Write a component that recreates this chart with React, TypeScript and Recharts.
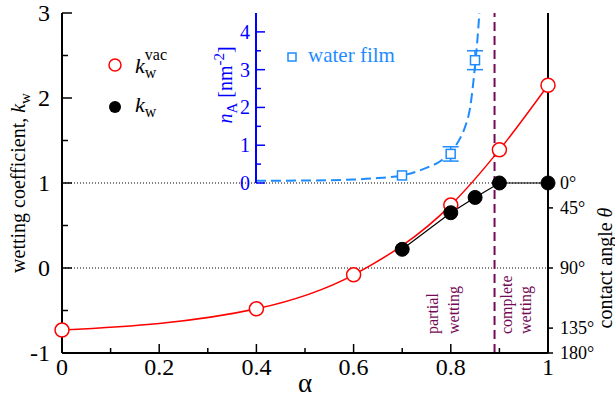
import {
  ComposedChart,
  Line,
  Scatter,
  ErrorBar,
  XAxis,
  YAxis,
  ReferenceLine,
  Legend
} from "recharts";

// wetting coefficient from vacuum reference
const vacAlpha = [0, 0.4, 0.6, 0.8, 0.9, 1.0];
const vacK = [-0.73, -0.48, -0.08, 0.74, 1.39, 2.15];

// wetting coefficient from contact angle
const kwAlpha = [0.7, 0.8, 0.85, 0.9, 1.0];
const kwK = [0.22, 0.65, 0.83, 1.0, 1.0];

// inset: water film density
const filmAlpha = [0.7, 0.8, 0.85];
const filmN = [0.2, 0.77, 3.25];
const filmErr = [0, 0.19, 0.25];

// inset: fitted curve
const fitAlpha = [0.4, 0.5, 0.6, 0.65, 0.7, 0.75, 0.78, 0.8, 0.82, 0.83, 0.84, 0.85, 0.855, 0.86, 0.865];
const fitN = [0.06, 0.065, 0.09, 0.13, 0.2, 0.4, 0.59, 0.82, 1.2, 1.5, 2.0, 3.1, 3.8, 4.7, 5.8];

const xTicks = [0, 0.1, 0.2, 0.3, 0.4, 0.5, 0.6, 0.7, 0.8, 0.9, 1];
const yTicks = [-1, -0.5, 0, 0.5, 1, 1.5, 2, 2.5, 3];
const insetTicks = [0, 0.5, 1, 1.5, 2, 2.5, 3, 3.5, 4];
const thetaDeg = [0, 45, 90, 135, 180];
const thetaTicks = thetaDeg.map((d) => Math.cos((d * Math.PI) / 180));
const wettingBoundary = 0.89;

const vacData = vacAlpha.map((a, i) => ({ alpha: a, k: vacK[i] }));
const kwData = kwAlpha.map((a, i) => ({ alpha: a, k: kwK[i] }));
const filmData = filmAlpha.map((a, i) => ({ alpha: a, n: filmN[i], err: filmErr[i] }));
const fitData = fitAlpha.map((a, i) => ({ alpha: a, n: fitN[i] }));

const FONT = '"Liberation Serif", "Times New Roman", serif';
const PURPLE = "#730a55";
const FILM = "#1e8cff";
const BLUE = "#0000ff";

const fmtX = (v: number) => (v === 0 ? "0" : v === 1 ? "1" : v.toFixed(1));
const isMajorX = (v: number) => Math.round(v * 10) % 2 === 0;

function BottomTick({ x, y, payload }: any) {
  const v = payload.value;
  const major = isMajorX(v);
  return (
    <g>
      <line x1={x} x2={x} y1={y} y2={y - (major ? 9 : 5)} stroke="#000" strokeWidth={1.5} />
      {major && (
        <text x={x} y={y + 22} textAnchor="middle" fontSize={24} style={{ fontFamily: FONT }} fill="#000">
          {fmtX(v)}
        </text>
      )}
    </g>
  );
}

function TopTick({ x, y, payload }: any) {
  const major = isMajorX(payload.value);
  return <line x1={x} x2={x} y1={y} y2={y + (major ? 9 : 5)} stroke="#000" strokeWidth={1.5} />;
}

function LeftTick({ x, y, payload }: any) {
  const v = payload.value;
  const major = Number.isInteger(v);
  return (
    <g>
      <line x1={x} x2={x + (major ? 10 : 6)} y1={y} y2={y} stroke="#000" strokeWidth={1.5} />
      {major && (
        <text x={x - 12} y={y} dy="0.35em" textAnchor="end" fontSize={24} style={{ fontFamily: FONT }} fill="#000">
          {v}
        </text>
      )}
    </g>
  );
}

function RightTick({ x, y, index }: any) {
  return (
    <g>
      <line x1={x} x2={x + 5} y1={y} y2={y} stroke="#000" strokeWidth={1.5} />
      <text x={x + 12} y={y} dy="0.35em" textAnchor="start" fontSize={18} style={{ fontFamily: FONT }} fill="#000">
        {thetaDeg[index]}°
      </text>
    </g>
  );
}

function InsetTick({ x, y, payload }: any) {
  const v = payload.value;
  const major = Number.isInteger(v);
  return (
    <g>
      <line x1={x} x2={x + (major ? 9 : 5)} y1={y} y2={y} stroke={BLUE} strokeWidth={1.5} />
      {major && (
        <text x={x - 6} y={y} dy="0.35em" textAnchor="end" fontSize={20} style={{ fontFamily: FONT }} fill={BLUE}>
          {v}
        </text>
      )}
    </g>
  );
}

function WettingLabels({ viewBox }: any) {
  const x = viewBox.x;
  const base = viewBox.y + viewBox.height - 19;
  const items: [string, number][] = [
    ["partial", -57],
    ["wetting", -36],
    ["complete", 17],
    ["wetting", 36]
  ];
  return (
    <g>
      {items.map(([t, dx], i) => (
        <text
          key={i}
          transform={`translate(${x + dx},${base}) rotate(-90)`}
          fontSize={16}
          style={{ fontFamily: FONT }}
          fill={PURPLE}
        >
          {t}
        </text>
      ))}
    </g>
  );
}

function MainLegend() {
  return (
    <svg width={100} height={96} style={{ overflow: "visible" }}>
      <circle cx={15} cy={27} r={6} fill="#fff" stroke="#ff0000" strokeWidth={1.5} />
      <text x={35} y={35} fontSize={22} style={{ fontFamily: FONT }} fill="#000">
        <tspan fontStyle="italic">k</tspan>
        <tspan fontSize={16} dy={5}>w</tspan>
        <tspan fontSize={16} dx={-11.5} dy={-18}>vac</tspan>
      </text>
      <circle cx={15} cy={69} r={6} fill="#000" />
      <text x={35} y={74} fontSize={22} style={{ fontFamily: FONT }} fill="#000">
        <tspan fontStyle="italic">k</tspan>
        <tspan fontSize={16} dy={5}>w</tspan>
      </text>
    </svg>
  );
}

function FilmLegend() {
  return (
    <svg width={130} height={40} style={{ overflow: "visible" }}>
      <rect x={8} y={13} width={8} height={8} fill="#fff" stroke={FILM} strokeWidth={1.5} />
      <text x={28} y={22} fontSize={21} style={{ fontFamily: FONT }} fill={FILM}>
        water film
      </text>
    </svg>
  );
}

export default function App() {
  return (
    <div style={{ position: "relative", width: 615, height: 398, background: "#fff" }}>
      <style>{"body{margin:0}"}</style>
      <div style={{ position: "absolute", left: 0, top: 0 }}>
        <ComposedChart width={615} height={398} margin={{ top: 13, right: 0, bottom: 0, left: 0 }}>
          <XAxis
            xAxisId="b"
            type="number"
            dataKey="alpha"
            domain={[0, 1]}
            ticks={xTicks}
            interval={0}
            height={45}
            axisLine={{ stroke: "#000", strokeWidth: 2 }}
            tickLine={false}
            tickSize={0}
            tickMargin={0}
            tick={(p: any) => <BottomTick {...p} />}
            label={({ viewBox }: any) => (
              <text
                x={viewBox.x + viewBox.width / 2}
                y={viewBox.y + 39}
                textAnchor="middle"
                fontSize={27}
                style={{ fontFamily: FONT }}
                fill="#000"
              >
                α
              </text>
            )}
          />
          <XAxis
            xAxisId="t"
            orientation="top"
            type="number"
            dataKey="alpha"
            domain={[0, 1]}
            ticks={xTicks}
            interval={0}
            height={0}
            axisLine={{ stroke: "#000", strokeWidth: 2 }}
            tickLine={false}
            tickSize={0}
            tickMargin={0}
            tick={(p: any) => <TopTick {...p} />}
          />
          <YAxis
            yAxisId="l"
            type="number"
            domain={[-1, 3]}
            ticks={yTicks}
            interval={0}
            width={62}
            axisLine={{ stroke: "#000", strokeWidth: 2 }}
            tickLine={false}
            tickSize={0}
            tickMargin={0}
            tick={(p: any) => <LeftTick {...p} />}
            label={({ viewBox }: any) => (
              <text
                transform={`translate(${viewBox.x + 25},${viewBox.y + viewBox.height / 2}) rotate(-90)`}
                textAnchor="middle"
                fontSize={20}
                style={{ fontFamily: FONT }}
                fill="#000"
              >
                wetting coefficient,{" "}
                <tspan fontStyle="italic">k</tspan>
                <tspan fontSize={15} dy={5}>w</tspan>
              </text>
            )}
          />
          <YAxis
            yAxisId="r"
            orientation="right"
            type="number"
            domain={[-1, 3]}
            ticks={thetaTicks}
            interval={0}
            width={67}
            axisLine={{ stroke: "#000", strokeWidth: 2 }}
            tickLine={false}
            tickSize={0}
            tickMargin={0}
            tick={(p: any) => <RightTick {...p} />}
            label={({ viewBox }: any) => (
              <text
                transform={`translate(${viewBox.x + 64},268) rotate(-90)`}
                textAnchor="middle"
                fontSize={20}
                style={{ fontFamily: FONT }}
                fill="#000"
              >
                contact angle <tspan fontStyle="italic">θ</tspan>
              </text>
            )}
          />
          <ReferenceLine xAxisId="b" yAxisId="l" y={1} stroke="#000" strokeWidth={1} strokeDasharray="1 2" />
          <ReferenceLine xAxisId="b" yAxisId="l" y={0} stroke="#000" strokeWidth={1} strokeDasharray="1 2" />
          <ReferenceLine
            xAxisId="b"
            yAxisId="l"
            x={wettingBoundary}
            stroke={PURPLE}
            strokeWidth={2}
            strokeDasharray="9 5"
            label={(p: any) => <WettingLabels {...p} />}
          />
          {/* top and bottom axes share [0,1]; left and right share [-1,3] */}
          <Line
            xAxisId="t"
            yAxisId="l"
            data={vacData}
            dataKey="k"
            name="kvac"
            type="monotone"
            stroke="#ff0000"
            strokeWidth={1.5}
            dot={{ r: 7, fill: "#fff", stroke: "#ff0000", strokeWidth: 1.5 }}
            isAnimationActive={false}
          />
          <Line
            xAxisId="b"
            yAxisId="r"
            data={kwData}
            dataKey="k"
            name="kw"
            type="linear"
            stroke="#000"
            strokeWidth={1.2}
            dot={{ r: 7, fill: "#000", stroke: "#000", strokeWidth: 1 }}
            isAnimationActive={false}
          />
          <Legend
            layout="vertical"
            align="center"
            verticalAlign="middle"
            wrapperStyle={{ position: "absolute", left: 100, top: 38, width: 100, height: 96 }}
            content={() => <MainLegend />}
          />
        </ComposedChart>
      </div>
      <div style={{ position: "absolute", left: 0, top: 0, pointerEvents: "none" }}>
        <ComposedChart width={615} height={398} margin={{ top: 13, right: 67, bottom: 215, left: 0 }}>
          <XAxis xAxisId="f" type="number" dataKey="alpha" domain={[0.4, 1]} hide />
          <YAxis
            yAxisId="f"
            type="number"
            domain={[0, 4.5]}
            allowDataOverflow
            ticks={insetTicks}
            interval={0}
            width={256}
            axisLine={{ stroke: BLUE, strokeWidth: 2 }}
            tickLine={false}
            tickSize={0}
            tickMargin={0}
            tick={(p: any) => <InsetTick {...p} />}
            label={({ viewBox }: any) => (
              <text
                transform={`translate(${viewBox.x + viewBox.width - 24},85) rotate(-90)`}
                textAnchor="middle"
                fontSize={20}
                style={{ fontFamily: FONT }}
                fill={BLUE}
              >
                <tspan fontStyle="italic">n</tspan>
                <tspan fontSize={15} dy={5}>A</tspan>
                <tspan dy={-5}> [nm</tspan>
                <tspan fontSize={15} dy={-8}>-2</tspan>
                <tspan dy={8}>]</tspan>
              </text>
            )}
          />
          <Line
            xAxisId="f"
            yAxisId="f"
            data={fitData}
            dataKey="n"
            type="monotone"
            stroke={FILM}
            strokeWidth={2}
            strokeDasharray="10 5"
            dot={false}
            isAnimationActive={false}
          />
          <Scatter
            xAxisId="f"
            yAxisId="f"
            data={filmData}
            dataKey="n"
            name="water film"
            isAnimationActive={false}
            shape={(p: any) => (
              <rect x={p.cx - 4.5} y={p.cy - 4.5} width={9} height={9} fill="#fff" stroke={FILM} strokeWidth={1.5} />
            )}
          >
            <ErrorBar dataKey="err" direction="y" width={8} stroke={FILM} strokeWidth={1.5} isAnimationActive={false} />
          </Scatter>
          <Legend
            layout="vertical"
            align="center"
            verticalAlign="middle"
            wrapperStyle={{ position: "absolute", left: 280, top: 40, width: 130, height: 40 }}
            content={() => <FilmLegend />}
          />
        </ComposedChart>
      </div>
    </div>
  );
}
